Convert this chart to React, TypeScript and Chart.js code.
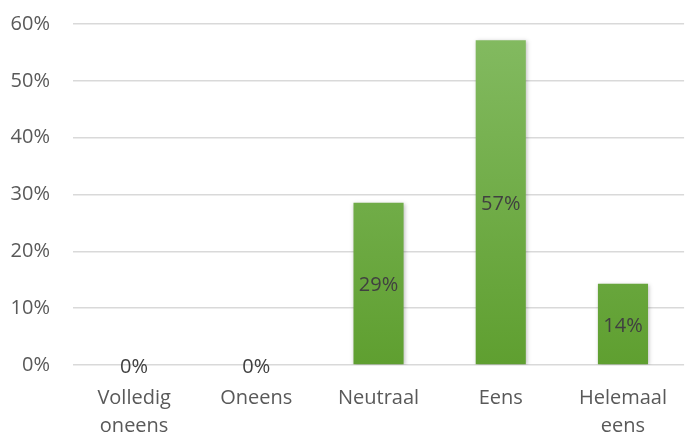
import React, { useEffect, useRef } from "react";
import { Chart, registerables } from "chart.js";

Chart.register(...registerables);

const categories: (string | string[])[] = [
  ["Volledig", "oneens"],
  "Oneens",
  "Neutraal",
  "Eens",
  ["Helemaal", "eens"],
];
const values: number[] = [0, 0, 0.2857, 0.5714, 0.1429];
const valueLabels: string[] = ["0%", "0%", "29%", "57%", "14%"];

const FONT = "'Open Sans', 'Liberation Sans', sans-serif";

export default function App() {
  const ref = useRef<HTMLCanvasElement | null>(null);
  useEffect(() => {
    document.body.style.margin = "0";
    const canvas = ref.current!;
    const labelPlugin = {
      id: "valueLabels",
      beforeDatasetsDraw(chart: any) {
        const ctx = chart.ctx;
        ctx.save();
        ctx.shadowColor = "rgba(0,0,0,0.25)";
        ctx.shadowBlur = 4;
        ctx.shadowOffsetX = 1;
        ctx.shadowOffsetY = 1;
      },
      afterDatasetsDraw(chart: any) {
        const ctx = chart.ctx;
        ctx.restore();
        const meta = chart.getDatasetMeta(0);
        ctx.save();
        ctx.font = `20px ${FONT}`;
        ctx.fillStyle = "#404040";
        ctx.textAlign = "center";
        ctx.textBaseline = "middle";
        meta.data.forEach((bar: any, i: number) => {
          const y = (bar.y + bar.base) / 2 + 2;
          ctx.fillText(valueLabels[i], bar.x, y);
        });
        ctx.restore();
      },
    };
    const chart = new Chart(canvas, {
      type: "bar",
      data: {
        labels: categories,
        datasets: [
          {
            data: values,
            backgroundColor: (c: any) => {
              const area = c.chart.chartArea;
              if (!area) return "#6aab3e";
              const g = c.chart.ctx.createLinearGradient(0, area.top, 0, area.bottom);
              g.addColorStop(0, "#84bb62");
              g.addColorStop(1, "#5f9f30");
              return g;
            },
            borderWidth: 0,
            categoryPercentage: 1,
            barPercentage: 0.41,
          },
        ],
      },
      options: {
        animation: false,
        responsive: false,
        maintainAspectRatio: false,
        layout: { padding: { top: 0, right: 0, left: 0, bottom: 0 } },
        plugins: { legend: { display: false }, tooltip: { enabled: false } },
        scales: {
          x: {
            grid: { display: false, drawTicks: false },
            border: { display: false },
            ticks: {
              color: "#595959",
              font: { family: FONT, size: 20, lineHeight: 1.4 },
              padding: 19,
              maxRotation: 0,
            },
            afterFit: (s: any) => {
              s.height = 71;
            },
          },
          y: {
            min: 0,
            max: 0.6,
            grid: { color: "#d9d9d9", lineWidth: 1.5, drawTicks: false },
            border: { display: false },
            ticks: {
              stepSize: 0.1,
              color: "#595959",
              font: { family: FONT, size: 20 },
              padding: 23,
              callback: (v: any) => `${Math.round(Number(v) * 100)}%`,
            },
            afterFit: (s: any) => {
              s.width = 73;
              s.paddingTop = 24;
              s.paddingBottom = 0;
            },
          },
        },
      },
      plugins: [labelPlugin],
    });
    return () => chart.destroy();
  }, []);
  return (
    <div style={{ width: 686, height: 436 }}>
      <canvas ref={ref} width={686} height={436} style={{ display: "block" }} />
    </div>
  );
}
